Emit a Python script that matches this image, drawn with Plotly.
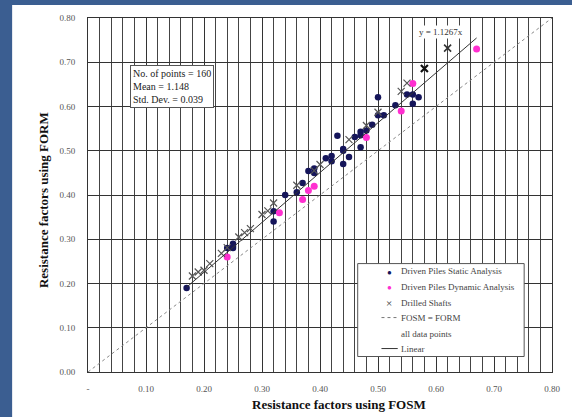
import plotly.graph_objects as go

# Resistance factors: FOSM (x) vs FORM (y)
static_x = [0.17, 0.24, 0.25, 0.25, 0.25, 0.32, 0.32, 0.34, 0.36, 0.37, 0.38, 0.39,
            0.39, 0.41, 0.42, 0.42, 0.43, 0.44, 0.44, 0.44, 0.45, 0.46, 0.47, 0.47,
            0.47, 0.48, 0.49, 0.50, 0.50, 0.51, 0.53, 0.55, 0.56, 0.56, 0.57]
static_y = [0.19, 0.28, 0.28, 0.29, 0.285, 0.34, 0.363, 0.40, 0.406, 0.427, 0.454, 0.45,
            0.46, 0.483, 0.476, 0.488, 0.534, 0.504, 0.47, 0.50, 0.486, 0.531, 0.543, 0.508,
            0.535, 0.546, 0.559, 0.621, 0.58, 0.58, 0.603, 0.627, 0.627, 0.606, 0.621]

dynamic_x = [0.24, 0.33, 0.37, 0.38, 0.39, 0.48, 0.54, 0.56, 0.67]
dynamic_y = [0.26, 0.36, 0.39, 0.41, 0.42, 0.53, 0.59, 0.652, 0.73]

drilled_x = [0.18, 0.19, 0.20, 0.21, 0.23, 0.24, 0.26, 0.27, 0.28, 0.30, 0.31, 0.32,
             0.36, 0.39, 0.40, 0.45, 0.48, 0.50, 0.54, 0.55, 0.58, 0.62]
drilled_y = [0.217, 0.226, 0.230, 0.245, 0.268, 0.281, 0.305, 0.315, 0.324, 0.356, 0.364, 0.382,
             0.422, 0.455, 0.469, 0.525, 0.557, 0.587, 0.634, 0.653, 0.686, 0.732]

slope = 1.1267
fit_x = [0.17, 0.67]
equal_x = [0.0, 0.80]

x_tickvals = [0.0, 0.1, 0.2, 0.3, 0.4, 0.5, 0.6, 0.7, 0.8]
x_ticktext = ["-", "0.10", "0.20", "0.30", "0.40", "0.50", "0.60", "0.70", "0.80"]

stats_text = "No. of points = 160<br>Mean = 1.148<br>Std. Dev. = 0.039"

legend_labels = ["Driven Piles Static Analysis", "Driven Piles Dynamic Analysis",
                 "Drilled Shafts", "FOSM = FORM", "all data points", "Linear"]

SERIF = "Liberation Serif, Times New Roman, serif"
FRAME_BLUE = "rgb(59,94,145)"
NAVY = "#15155a"
MAGENTA = "#ff2fd0"
DRILL_GRAY = "#555555"

fig = go.Figure()

fig.add_trace(go.Scatter(
    x=static_x, y=static_y, mode="markers", name=legend_labels[0],
    marker=dict(symbol="circle", size=6.5, color=NAVY),
))
fig.add_trace(go.Scatter(
    x=dynamic_x, y=dynamic_y, mode="markers", name=legend_labels[1],
    marker=dict(symbol="circle", size=7, color=MAGENTA),
))
n_dr = len(drilled_x)
fig.add_trace(go.Scatter(
    x=drilled_x, y=drilled_y, mode="markers", name=legend_labels[2],
    marker=dict(symbol="x-thin", size=7,
                line=dict(width=[1.2] * (n_dr - 2) + [2.2, 1.6],
                          color=[DRILL_GRAY] * (n_dr - 2) + ["#111111", "#333333"])),
))
fig.add_trace(go.Scatter(
    x=equal_x, y=equal_x, mode="lines", name=legend_labels[3],
    line=dict(color="#888888", width=1, dash="dot"),
))
fig.add_trace(go.Scatter(
    x=fit_x, y=[slope * v for v in fit_x], mode="lines", name=legend_labels[5],
    line=dict(color="#333333", width=1),
))

axis_common = dict(
    showline=True, linecolor="#333333", linewidth=1, mirror=True,
    showgrid=True, gridcolor="#333333", gridwidth=1,
    zeroline=False,
    tickfont=dict(family=SERIF, size=9, color="#555555"),
)

fig.update_xaxes(
    range=[0, 0.8], tickvals=x_tickvals, ticktext=x_ticktext,
    ticks="outside", ticklen=8, tickcolor="rgba(0,0,0,0)",
    minor=dict(dtick=0.02, showgrid=True, gridcolor="#444444", gridwidth=1, ticks=""),
    **axis_common,
)
fig.update_yaxes(
    range=[0, 0.8], dtick=0.1, tick0=0, tickformat=".2f",
    ticks="outside", ticklen=10, tickcolor="rgba(0,0,0,0)",
    **axis_common,
)

fig.add_annotation(
    x=0.073, y=0.694, xref="x", yref="y", xanchor="left", yanchor="top",
    text=stats_text, showarrow=False, align="left",
    font=dict(family=SERIF, size=10, color="#222222"),
    bgcolor="white", bordercolor="#555555", borderwidth=1, borderpad=2,
)
fig.add_annotation(
    x=0.609, y=0.768, xref="x", yref="y", text="y = 1.1267x", showarrow=False,
    font=dict(family=SERIF, size=9, color="#333333"), bgcolor="white",
)
fig.add_annotation(
    x=0.542, y=-0.092, xref="paper", yref="paper", xanchor="center", yanchor="middle",
    text="<b>Resistance factors using FOSM</b>",
    showarrow=False, font=dict(family=SERIF, size=13, color="#111111"),
)
fig.add_annotation(
    x=-0.096, y=0.487, xref="paper", yref="paper", xanchor="center", yanchor="middle",
    text="<b>Resistance factors using FORM</b>",
    showarrow=False, textangle=-90, font=dict(family=SERIF, size=13, color="#111111"),
)

# legend panel in the lower right of the plot
fig.add_shape(type="rect", xref="x", yref="y", x0=0.465, x1=0.752, y0=0.035, y1=0.245,
              fillcolor="white", line=dict(color="#555555", width=1), layer="above")
row_y = [0.228, 0.193, 0.157, 0.123, 0.087, 0.053]
sym_x = 0.519
text_x = 0.537
fig.add_annotation(x=sym_x, y=row_y[0], xref="x", yref="y", text="●", showarrow=False,
                   font=dict(size=8, color=NAVY))
fig.add_annotation(x=sym_x, y=row_y[1], xref="x", yref="y", text="●", showarrow=False,
                   font=dict(size=8, color=MAGENTA))
fig.add_annotation(x=sym_x, y=row_y[2], xref="x", yref="y", text="×", showarrow=False,
                   font=dict(family=SERIF, size=11, color="#333333"))
fig.add_shape(type="line", xref="x", yref="y", x0=0.506, x1=0.534, y0=row_y[3], y1=row_y[3],
              line=dict(color="#777777", width=1, dash="dot"), layer="above")
fig.add_shape(type="line", xref="x", yref="y", x0=0.506, x1=0.534, y0=row_y[5], y1=row_y[5],
              line=dict(color="#333333", width=1), layer="above")
for label, ry in zip(legend_labels, row_y):
    fig.add_annotation(x=text_x, y=ry, xref="x", yref="y", xanchor="left", yanchor="middle",
                       text=label, showarrow=False,
                       font=dict(family=SERIF, size=9, color="#444444"))

# blue frame strips along the left and top edges of the page
fig.add_shape(type="rect", xref="paper", yref="paper", x0=-0.3, x1=-0.1635, y0=-0.3, y1=1.2,
              fillcolor=FRAME_BLUE, line=dict(width=0))
fig.add_shape(type="rect", xref="paper", yref="paper", x0=-0.3, x1=1.2, y0=1.0367, y1=1.2,
              fillcolor=FRAME_BLUE, line=dict(width=0))

fig.update_layout(
    width=572, height=417,
    margin=dict(l=88, r=15, t=18, b=44.5),
    paper_bgcolor="white", plot_bgcolor="white",
    showlegend=False,
)

fig.write_html("out.html")
